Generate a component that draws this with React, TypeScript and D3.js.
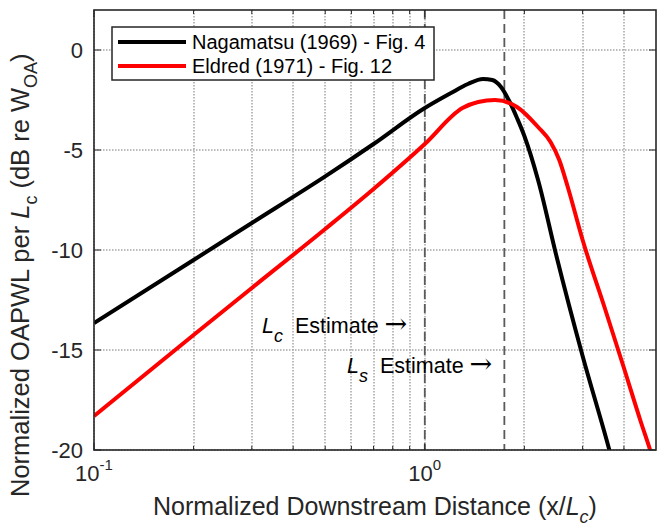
import React from "react";
import * as d3 from "d3";

const width = 658;
const height = 529;
const box = { left: 94, right: 656, top: 10, bottom: 450 };

// axis ticks
const xDomain = [0.1, 5];
const yDomain = [-20, 2];
const xMajor = [0.1, 1];
const xMajorExp = ["-1", "0"];
const xMinor = [0.2, 0.3, 0.4, 0.5, 0.6, 0.7, 0.8, 0.9, 2, 3, 4];
const yTicks = [0, -5, -10, -15, -20];

// Nagamatsu (1969) - Fig. 4
const nagX = [0.1, 0.2, 0.3, 0.5, 0.7, 1.0, 1.2, 1.35, 1.5, 1.6, 1.7, 1.8, 1.9, 2.0, 2.2, 2.5, 3.0, 3.6, 3.75];
const nagY = [-13.65, -10.5, -8.65, -6.32, -4.7, -2.9, -2.15, -1.7, -1.45, -1.5, -1.85, -2.55, -3.4, -4.3, -6.5, -10.3, -15.3, -19.9, -21];

// Eldred (1971) - Fig. 12
const eldX = [0.1, 0.2, 0.3, 0.5, 0.7, 1.0, 1.3, 1.45, 1.63, 1.9, 2.2, 2.4, 2.55, 2.7, 3.0, 3.5, 4.0, 4.5, 4.8, 5.0];
const eldY = [-18.3, -14.25, -11.9, -8.95, -6.95, -4.7, -2.9, -2.6, -2.5, -2.85, -3.85, -4.6, -5.5, -6.8, -9.5, -12.9, -15.9, -18.6, -20.0, -21.0];

const lcEstimate = 1.0;
const lsEstimate = 1.74;

const font = "'Liberation Sans', Arial, Helvetica, sans-serif";
const axisColor = "#262626";
const gridColor = "#a6a6a6";

function Estimate({ xPos, yPos, sub }: { xPos: number; yPos: number; sub: string }) {
  return (
    <text x={xPos} y={yPos} fontSize={21.5} fill="#000">
      <tspan fontStyle="italic">L</tspan>
      <tspan dy={9} fontSize={18} fontStyle="italic">
        {sub}
      </tspan>
      <tspan dy={-9} dx={12}>
        Estimate
      </tspan>
      <tspan dx={6} fontFamily="'DejaVu Serif', serif" fontSize={27}>
        {"\u2192"}
      </tspan>
    </text>
  );
}

export default function App() {
  const x = d3.scaleLog().domain(xDomain).range([box.left, box.right]);
  const y = d3.scaleLinear().domain(yDomain).range([box.bottom, box.top]);

  const nagPath = d3
    .line<number>()
    .x((d) => x(d))
    .y((d, i) => y(nagY[i]))
    .curve(d3.curveMonotoneX)(nagX);
  const eldPath = d3
    .line<number>()
    .x((d) => x(d))
    .y((d, i) => y(eldY[i]))
    .curve(d3.curveMonotoneX)(eldX);

  const majLen = 7;
  const minLen = 4;

  const gridX = [...xMajor, ...xMinor];

  return (
    <svg width={width} height={height} style={{ display: "block", position: "absolute", left: 0, top: 0 }} fontFamily={font}>
      <defs>
        <clipPath id="plotClip">
          <rect x={box.left} y={box.top} width={box.right - box.left} height={box.bottom - box.top} />
        </clipPath>
      </defs>
      <rect x={0} y={0} width={width} height={height} fill="#fff" />

      {/* grid */}
      <g stroke={gridColor} strokeWidth={1.5} strokeDasharray="1.5 1.5" fill="none">
        {gridX.map((d) => (
          <line key={"gx" + d} x1={Math.round(x(d))} x2={Math.round(x(d))} y1={box.top} y2={box.bottom} />
        ))}
        {yTicks.map((d) => (
          <line key={"gy" + d} x1={box.left} x2={box.right} y1={Math.round(y(d))} y2={Math.round(y(d))} />
        ))}
      </g>

      {/* estimate lines */}
      <g stroke="#5a5a5a" strokeWidth={1.8} strokeDasharray="9,5">
        <line x1={x(lcEstimate)} x2={x(lcEstimate)} y1={box.top} y2={box.bottom} />
        <line x1={x(lsEstimate)} x2={x(lsEstimate)} y1={box.top} y2={box.bottom} />
      </g>

      {/* series */}
      <g clipPath="url(#plotClip)" fill="none" strokeWidth={4} strokeLinejoin="round">
        <path d={nagPath || ""} stroke="#000" />
        <path d={eldPath || ""} stroke="#ff0000" />
      </g>

      {/* annotations */}
      <Estimate xPos={262} yPos={333} sub="c" />
      <Estimate xPos={347} yPos={373} sub="s" />

      {/* ticks */}
      <g stroke={axisColor} strokeWidth={1}>
        {xMajor.map((d) => (
          <g key={"tx" + d}>
            <line x1={x(d)} x2={x(d)} y1={box.bottom} y2={box.bottom - majLen} />
            <line x1={x(d)} x2={x(d)} y1={box.top} y2={box.top + majLen} />
          </g>
        ))}
        {xMinor.map((d) => (
          <g key={"tm" + d}>
            <line x1={x(d)} x2={x(d)} y1={box.bottom} y2={box.bottom - minLen} />
            <line x1={x(d)} x2={x(d)} y1={box.top} y2={box.top + minLen} />
          </g>
        ))}
        {yTicks.map((d) => (
          <g key={"ty" + d}>
            <line x1={box.left} x2={box.left + majLen} y1={y(d)} y2={y(d)} />
            <line x1={box.right} x2={box.right - majLen} y1={y(d)} y2={y(d)} />
          </g>
        ))}
      </g>

      {/* box */}
      <rect
        x={box.left}
        y={box.top}
        width={box.right - box.left}
        height={box.bottom - box.top}
        fill="none"
        stroke={axisColor}
        strokeWidth={1.6}
      />

      {/* tick labels */}
      <g fontSize={22} fill={axisColor}>
        {yTicks.map((d) => (
          <text key={"ly" + d} x={box.left - 11} y={y(d)} dy="0.36em" textAnchor="end">
            {d}
          </text>
        ))}
        {xMajor.map((d, i) => (
          <text key={"lx" + d} x={x(d)} y={481} textAnchor="middle">
            10
            <tspan dy={-11} fontSize={15}>
              {xMajorExp[i]}
            </tspan>
          </text>
        ))}
      </g>

      {/* axis labels */}
      <text x={(box.left + box.right) / 2} y={515} textAnchor="middle" fontSize={25} fill={axisColor}>
        Normalized Downstream Distance (x/
        <tspan fontStyle="italic">L</tspan>
        <tspan dy={8} fontSize={18} fontStyle="italic">c</tspan>
        <tspan dy={-8}>)</tspan>
      </text>
      <text transform="translate(29,497) rotate(-90)" textAnchor="start" fontSize={25.5} fill={axisColor}>
        Normalized OAPWL per <tspan fontStyle="italic">L</tspan>
        <tspan dy={8} fontSize={18}>c</tspan>
        <tspan dy={-8} dx={7}>(dB re W</tspan>
        <tspan dy={8} fontSize={18}>OA</tspan>
        <tspan dy={-8}>)</tspan>
      </text>

      {/* legend */}
      <g>
        <rect x={112} y={27} width={322} height={53} fill="#fff" stroke={axisColor} strokeWidth={1.5} />
        <line x1={118} x2={186} y1={42} y2={42} stroke="#000" strokeWidth={4} />
        <line x1={118} x2={186} y1={66} y2={66} stroke="#ff0000" strokeWidth={4} />
        <text x={192} y={49} fontSize={20} fill="#000">
          Nagamatsu (1969) - Fig. 4
        </text>
        <text x={192} y={73} fontSize={20} fill="#000">
          Eldred (1971) - Fig. 12
        </text>
      </g>
    </svg>
  );
}
